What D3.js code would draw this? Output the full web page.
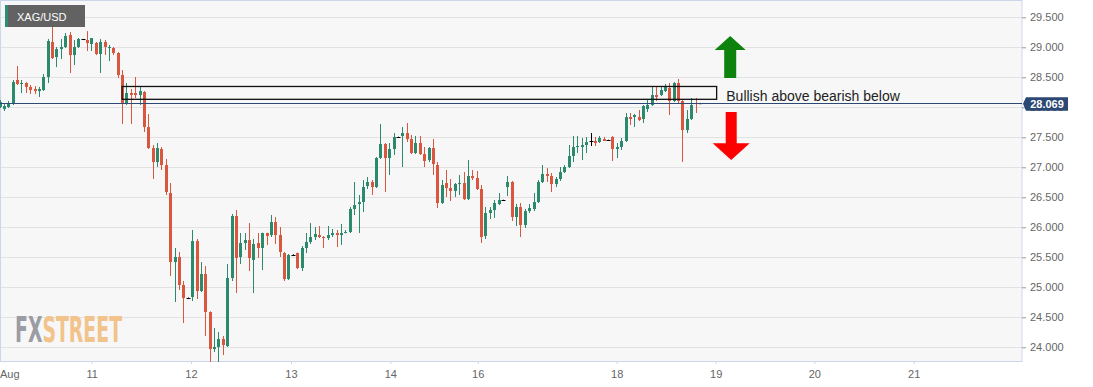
<!DOCTYPE html>
<html>
<head>
<meta charset="utf-8">
<script src="https://cdn.jsdelivr.net/npm/d3@7"></script>
<style>
  body { margin: 0; background: #fff; }
  svg { display: block; font-family: "Liberation Sans", Arial, sans-serif; }
</style>
</head>
<body>
<div id="chart"></div>
<script>
// hourly XAG/USD candles
var opens = [28.005,27.971,28.005,28.055,28.455,28.388,28.405,28.338,28.305,28.271,28.288,28.505,29.088,28.838,28.971,29.005,29.205,28.871,29.005,29.138,
  29.121,29.055,29.071,28.888,29.088,28.988,28.988,28.905,28.538,28.071,28.238,28.238,28.205,28.255,27.671,27.321,27.088,27.305,27.038,26.571,
  25.421,25.505,25.038,24.821,24.838,25.771,24.938,25.221,24.588,23.971,24.005,24.138,24.021,25.155,26.188,25.505,25.738,25.788,25.455,25.738,
  25.655,25.905,25.871,26.088,25.871,25.571,25.138,25.538,25.571,25.321,25.655,25.755,25.838,25.871,25.838,25.821,25.871,25.905,25.871,25.905,
  25.921,26.305,26.388,26.421,26.688,26.755,26.671,27.155,27.388,27.155,27.305,27.505,27.521,27.571,27.471,27.238,27.405,27.221,27.121,27.321,
  27.038,26.405,26.738,26.655,26.605,26.721,26.738,26.471,26.855,26.821,26.638,25.855,26.238,26.288,26.388,26.455,26.671,26.755,26.171,26.338,
  26.038,26.271,26.305,26.421,26.755,26.888,26.855,26.721,26.805,26.921,27.005,27.188,27.338,27.338,27.371,27.438,27.438,27.421,27.471,27.455,
  27.505,27.305,27.338,27.438,27.838,27.838,27.838,27.805,27.971,28.038,28.205,28.205,28.271,28.321,28.105,28.405,28.105,27.621,27.805,28.071,
  28.055];
var highs = [28.121,28.055,28.105,28.455,28.688,28.455,28.42,28.371,28.355,28.338,28.555,29.138,29.388,29.005,29.138,29.238,29.255,29.121,29.155,29.14,
  29.27,29.155,29.088,29.138,29.121,29.038,29.005,28.92,28.621,28.405,28.305,28.505,28.338,28.271,27.888,27.371,27.405,27.338,27.138,26.738,
  25.655,25.588,25.105,24.83,25.955,25.805,25.421,25.355,24.6,24.321,24.255,24.188,25.388,26.221,26.288,25.905,25.905,26.071,25.805,25.905,
  25.91,25.91,26.205,26.171,26.005,25.588,25.555,25.55,25.58,25.688,25.905,26.071,26.005,26.021,25.855,26.021,25.971,25.955,26.055,25.955,
  26.338,26.755,26.538,26.788,26.838,26.788,27.171,27.721,27.405,27.405,27.571,27.51,27.671,27.738,27.538,27.521,27.521,27.338,27.338,27.471,
  27.088,26.788,26.955,26.805,26.738,26.871,26.921,27.121,26.955,26.938,26.705,26.338,26.338,26.455,26.571,26.46,26.855,26.771,26.388,26.405,
  26.305,26.388,26.571,26.788,27.038,26.988,26.905,26.838,27.005,27.038,27.371,27.521,27.521,27.488,27.505,27.571,27.505,27.521,27.505,27.46,
  27.521,27.405,27.488,27.905,27.905,27.888,27.955,28.038,28.121,28.338,28.355,28.338,28.388,28.405,28.421,28.471,28.121,27.955,28.155,28.155,
  28.075];
var lows = [27.988,27.938,27.988,28.038,28.371,28.238,28.238,28.221,28.221,28.171,28.271,28.405,28.805,28.671,28.805,28.988,28.571,28.705,28.988,29.13,
  28.938,28.938,28.871,28.571,28.871,28.771,28.871,28.488,27.721,28.038,27.721,28.155,28.038,27.588,27.305,26.805,27.005,26.955,26.538,25.188,
  24.755,24.955,24.405,24.81,24.771,24.805,24.921,24.188,23.755,23.921,23.755,23.871,24.005,25.105,24.905,25.388,25.621,25.271,24.905,25.488,
  25.288,25.705,25.838,25.721,25.505,25.105,25.121,25.53,25.305,25.271,25.571,25.721,25.788,25.821,25.655,25.788,25.838,25.671,25.705,25.9,
  25.905,26.205,25.905,26.255,26.638,26.538,26.655,27.138,26.588,26.871,27.205,27.5,27.005,27.421,27.221,27.221,27.205,27.005,27.088,26.871,
  26.321,26.388,26.505,26.438,26.505,26.538,26.455,26.455,26.788,26.621,25.738,25.805,26.138,26.155,26.371,26.45,26.521,26.105,26.021,25.838,
  25.988,26.238,26.271,26.405,26.738,26.755,26.588,26.671,26.771,26.905,26.988,27.088,27.238,27.121,27.238,27.355,27.355,27.405,27.438,27.45,
  27.105,27.155,27.288,27.421,27.705,27.671,27.771,27.738,27.921,28.021,28.105,28.188,28.255,27.871,28.088,28.071,27.088,27.571,27.788,27.905,
  28.05];
var closes = [28.088,28.021,28.071,28.421,28.388,28.405,28.338,28.288,28.271,28.305,28.505,29.105,28.821,28.971,29.005,29.188,28.871,29.005,29.138,29.138,
  29.071,29.155,28.888,29.088,29.005,29.005,28.905,28.538,28.071,28.238,28.205,28.205,28.271,27.671,27.321,27.088,27.321,27.038,26.588,25.421,
  25.505,25.038,24.821,24.821,25.771,24.938,25.221,24.588,23.971,24.005,24.138,24.038,25.155,26.188,25.488,25.738,25.788,25.488,25.721,25.655,
  25.905,25.855,26.088,25.871,25.588,25.138,25.538,25.538,25.321,25.655,25.755,25.838,25.888,25.838,25.821,25.871,25.905,25.871,25.905,25.921,
  26.305,26.371,26.421,26.671,26.755,26.671,27.155,27.388,27.155,27.305,27.505,27.505,27.571,27.471,27.238,27.405,27.221,27.105,27.321,27.055,
  26.405,26.705,26.655,26.605,26.721,26.738,26.471,26.855,26.821,26.638,25.838,26.238,26.288,26.405,26.455,26.455,26.755,26.171,26.338,26.038,
  26.271,26.321,26.421,26.755,26.888,26.855,26.721,26.805,26.921,27.005,27.188,27.338,27.355,27.371,27.421,27.438,27.405,27.488,27.438,27.455,
  27.305,27.338,27.438,27.838,27.805,27.871,27.788,28.021,28.038,28.205,28.171,28.288,28.338,28.105,28.405,28.105,27.621,27.805,28.038,28.055,
  28.069];

// axis labels
var dayLabels = ["Aug", "11", "12", "13", "14", "16", "18", "19", "20", "21"];
var dayIndex  = [-1.6, 21.06, 43.74, 66.58, 89.26, 109.23, 140.98, 163.59, 186.11, 208.82];
var priceTicks = [24, 24.5, 25, 25.5, 26, 26.5, 27, 27.5, 28, 28.5, 29, 29.5];

// annotation: the box and its note
var zonePrices = [28.133, 28.347];
var zoneIndex = [28, 163.8];
var zoneNote = "Bullish above bearish below";
var lastPrice = 28.069;

var W = 1093, H = 387;
var plotW = 1022, plotH = 361;

var svg = d3.select("#chart").append("svg")
	.attr("width", W)
	.attr("height", H);

var x = d3.scaleLinear().domain([0, 160]).range([-0.5, 700]);
var y = d3.scaleLinear().domain([24, 29.5]).range([347.3, 17.3]);

var up = "#2b8a6e", down = "#d9563f";

//Plot background
svg.append("rect")
	.attr("x", 0).attr("y", 0)
	.attr("width", plotW).attr("height", plotH)
	.attr("fill", "#f7f7f7");

//Grid lines
svg.append("g").selectAll("line")
	.data(priceTicks)
	.enter().append("line")
	.attr("x1", 0).attr("x2", plotW)
	.attr("y1", function(d) { return Math.round(y(d)) + 0.5; })
	.attr("y2", function(d) { return Math.round(y(d)) + 0.5; })
	.attr("stroke", "#e2e2e2");

//Watermark
var wm = svg.append("text")
	.attr("x", 15).attr("y", 342)
	.attr("textLength", 107).attr("lengthAdjust", "spacingAndGlyphs")
	.style("font-weight", "bold").style("font-size", "36px")
	.style("font-family", "'DejaVu Sans Condensed','Liberation Sans Narrow',sans-serif");
wm.append("tspan").attr("fill", "#9a9da4").text("FX");
wm.append("tspan").attr("fill", "#f2c38a").text("STREET");

//Plot border
svg.append("rect")
	.attr("x", 0.5).attr("y", 0.5)
	.attr("width", plotW - 0.5).attr("height", plotH)
	.attr("fill", "none")
	.attr("stroke", "#ccd6eb");

//Candles
var candles = d3.range(opens.length).map(function(i) {
	return { i: i, o: opens[i], h: highs[i], l: lows[i], c: closes[i] };
});
function col(d) { return d.c > d.o ? up : (d.c < d.o ? down : "#000"); }

var cg = svg.append("g").attr("class", "candles");
cg.selectAll(".wick")
	.data(candles)
	.enter().append("line")
	.attr("class", "wick")
	.attr("x1", function(d) { return Math.round(x(d.i)) + 0.5; })
	.attr("x2", function(d) { return Math.round(x(d.i)) + 0.5; })
	.attr("y1", function(d) { return y(d.h); })
	.attr("y2", function(d) { return y(d.l); })
	.attr("stroke", col)
	.attr("stroke-width", 1);

cg.selectAll(".body")
	.data(candles)
	.enter().append("rect")
	.attr("class", "body")
	.attr("x", function(d) { return Math.round(x(d.i)) - (d.c === d.o ? 1.5 : 1); })
	.attr("width", function(d) { return d.c === d.o ? 4 : 3; })
	.attr("y", function(d) { return y(Math.max(d.o, d.c)); })
	.attr("height", function(d) { return Math.max(1, Math.abs(y(d.o) - y(d.c))); })
	.attr("fill", col);

//Last price line
svg.append("line")
	.attr("x1", 0).attr("x2", plotW)
	.attr("y1", Math.round(y(lastPrice)) + 0.5)
	.attr("y2", Math.round(y(lastPrice)) + 0.5)
	.attr("stroke", "#2d4a74");

//Zone box
svg.append("rect")
	.attr("x", x(zoneIndex[0]))
	.attr("y", y(zonePrices[1]))
	.attr("width", x(zoneIndex[1]) - x(zoneIndex[0]))
	.attr("height", y(zonePrices[0]) - y(zonePrices[1]))
	.attr("fill", "none")
	.attr("stroke", "#111")
	.attr("stroke-width", 1.3);

svg.append("text")
	.attr("x", x(166))
	.attr("y", y(28.105))
	.attr("fill", "#222")
	.style("font-size", "14px")
	.text(zoneNote);

//Arrows
var ax = x(166.9);
svg.append("path")
	.attr("d", "M" + ax + "," + y(29.188) + "L" + (ax + 15.5) + "," + y(28.955) +
		"H" + (ax + 6) + "V" + y(28.488) + "H" + (ax - 6) + "V" + y(28.955) + "H" + (ax - 15.5) + "Z")
	.attr("fill", "#0d830d");
svg.append("path")
	.attr("d", "M" + (ax + 1) + "," + y(27.121) + "L" + (ax + 19.5) + "," + y(27.4) +
		"H" + (ax + 6.5) + "V" + y(27.921) + "H" + (ax - 4.5) + "V" + y(27.4) + "H" + (ax - 17.5) + "Z")
	.attr("fill", "#ff0000");

//Right axis
var yAxis = svg.append("g")
	.attr("transform", "translate(" + plotW + ",0)")
	.call(d3.axisRight(y).tickValues(priceTicks).tickFormat(d3.format(".3f")).tickSize(4).tickPadding(4));
yAxis.select(".domain").remove();
yAxis.selectAll(".tick line").attr("stroke", "#999");
yAxis.selectAll("text").attr("fill", "#666").style("font-size", "11px")
	.style("font-family", "'Liberation Sans', Arial, sans-serif");

//Bottom axis
var xAxis = svg.append("g")
	.attr("transform", "translate(0," + plotH + ")")
	.call(d3.axisBottom(x).tickValues(dayIndex)
		.tickFormat(function(d, i) { return dayLabels[i]; })
		.tickSize(3).tickPadding(6));
xAxis.select(".domain").remove();
xAxis.selectAll(".tick line").attr("stroke", "#ccd6eb");
xAxis.selectAll("text").attr("fill", "#666").style("font-size", "11px")
	.style("font-family", "'Liberation Sans', Arial, sans-serif");
xAxis.selectAll(".tick").filter(function(d) { return x(d) < 10; })
	.each(function() {
		d3.select(this).attr("transform", "translate(0,0)");
		d3.select(this).select("line").remove();
		d3.select(this).select("text").attr("text-anchor", "start");
	});

//Last price label
var ly = y(lastPrice);
svg.append("path")
	.attr("d", "M" + (plotW + 1) + "," + (ly + 0.5) + "L1026," + (ly - 6) + "H1068V" + (ly + 7.5) + "H1026Z")
	.attr("fill", "#2b4773");
svg.append("text")
	.attr("x", 1047).attr("y", ly + 4.5)
	.attr("text-anchor", "middle")
	.attr("fill", "#fff")
	.style("font-size", "11px").style("font-weight", "bold")
	.text(lastPrice.toFixed(3));

//Symbol tag
svg.append("rect").attr("x", 5).attr("y", 5).attr("width", 80).attr("height", 22).attr("fill", "#626262");
svg.append("rect").attr("x", 5).attr("y", 5).attr("width", 3).attr("height", 22).attr("fill", "#2e8b74");
svg.append("text").attr("x", 17).attr("y", 20.5)
	.attr("fill", "#fff").style("font-size", "11px")
	.text("XAG/USD");
</script>
</body>
</html>
